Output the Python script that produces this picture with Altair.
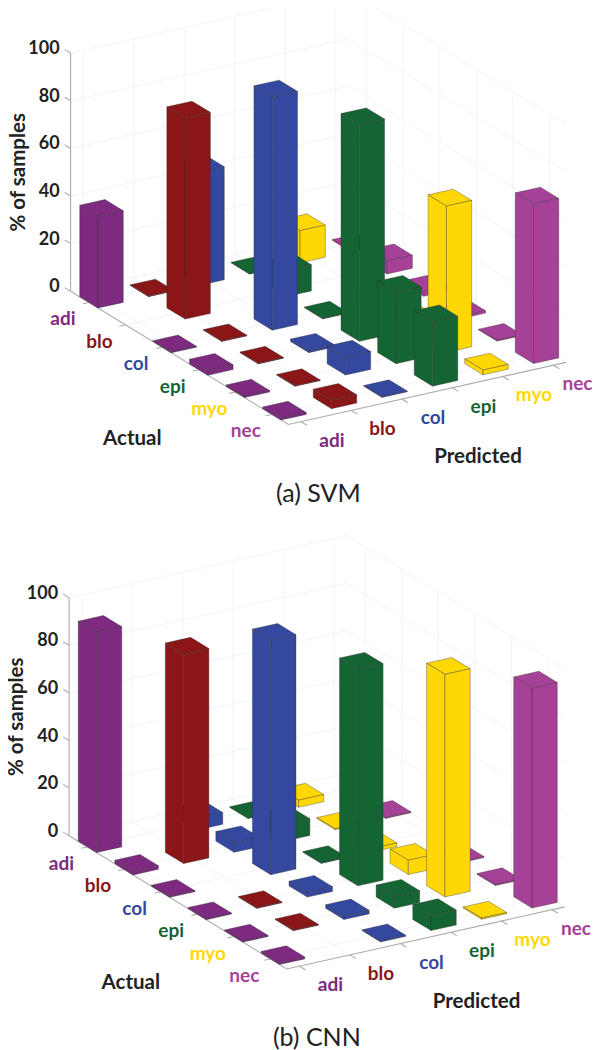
import altair as alt

ACTUAL = ["adi", "blo", "col", "epi", "myo", "nec"]
PREDICTED = ["adi", "blo", "col", "epi", "myo", "nec"]
COLORS = ["#7D2A80", "#8B1617", "#33489E", "#156534", "#FFD804", "#A64198"]
Z_TICKS = [0, 20, 40, 60, 80, 100]

# rows: actual, columns: predicted (% of samples), 0 = no bar drawn
SVM = [
    [38.5, 0.3, 47.5, 0.3, 13.5, 0.3],
    [0, 84.5, 0, 11, 0, 5.5],
    [0.4, 0.3, 98, 0.3, 0, 2],
    [2, 0.3, 1, 91, 4, 1],
    [0.6, 0.3, 7.5, 30, 61.5, 0.3],
    [0.8, 3.5, 0.3, 27, 2, 67],
]
CNN = [
    [92.5, 0, 5, 0.3, 3, 0],
    [1.5, 88, 4, 7, 0.4, 0.4],
    [0.4, 0, 98.5, 0.3, 1.5, 0],
    [0.4, 0.3, 2, 91, 6, 0.4],
    [0.4, 0.3, 1.5, 5, 93.5, 0.4],
    [0.8, 0, 0.4, 6.3, 0.5, 92.4],
]

ACTUAL_STEP = (36.6, 22.4)
PRED_STEP = (50.5, -11.3)
Z_STEP = 2.38
A_MIN, A_MAX, P_MIN, P_MAX = -0.5, 5.45, -0.25, 5.25
HALF = 0.25


def make_panel(values, caption, ox, oy):
    def pt(a, p, z=0.0):
        x = ox + a * ACTUAL_STEP[0] + p * PRED_STEP[0] - 8
        y = oy + a * ACTUAL_STEP[1] + p * PRED_STEP[1] - z * Z_STEP - 8
        return [round(x, 2), round(y, 2)]

    def line(points, kind):
        return {"type": "Feature", "properties": {"kind": kind},
                "geometry": {"type": "LineString", "coordinates": points}}

    grid, axes, bars = [], [], []
    for i in range(6):
        grid.append(line([pt(i, P_MIN), pt(i, P_MAX)], "g"))
        grid.append(line([pt(A_MIN, i), pt(A_MAX, i)], "g"))
        grid.append(line([pt(A_MIN, i), pt(A_MIN, i, 100)], "g"))
        grid.append(line([pt(i, P_MAX), pt(i, P_MAX, 100)], "g"))
    for z in Z_TICKS:
        grid.append(line([pt(A_MAX, P_MAX, z), pt(A_MIN, P_MAX, z), pt(A_MIN, P_MIN, z)], "g"))

    axes.append(line([pt(A_MIN, P_MIN), pt(A_MAX, P_MIN), pt(A_MAX, P_MAX)], "a"))
    axes.append(line([pt(A_MIN, P_MIN), pt(A_MIN, P_MIN, 100)], "a"))
    for i in range(6):
        axes.append(line([pt(i, P_MIN), pt(i, P_MIN - 0.12)], "a"))
        axes.append(line([pt(A_MAX, i), pt(A_MAX + 0.16, i)], "a"))
    for z in Z_TICKS:
        axes.append(line([pt(A_MIN, P_MIN, z), pt(A_MIN - 0.16, P_MIN, z)], "a"))

    cells = [(a, p) for a in range(6) for p in range(6) if values[a][p] > 0]
    cells.sort(key=lambda c: c[0] - c[1])
    for a, p in cells:
        v = values[a][p]
        a0, a1, p0, p1 = a - HALF, a + HALF, p - HALF, p + HALF
        faces = [
            [pt(a0, p0, v), pt(a1, p0, v), pt(a1, p1, v), pt(a0, p1, v)],
            [pt(a0, p0), pt(a1, p0), pt(a1, p0, v), pt(a0, p0, v)],
            [pt(a1, p0), pt(a1, p1), pt(a1, p1, v), pt(a1, p0, v)],
        ]
        for f in faces:
            bars.append({"type": "Feature", "properties": {"fill": COLORS[p]},
                         "geometry": {"type": "Polygon", "coordinates": [f + [f[0]]]}})

    ticks, cats, names = [], [], []
    for z in Z_TICKS:
        q = pt(A_MIN, P_MIN, z)
        ticks.append({"x": q[0] - 11, "y": q[1] - 4, "t": str(z)})
    for i in range(6):
        q = pt(i, P_MIN)
        cats.append({"x": q[0] - 26, "y": q[1] + 17, "t": ACTUAL[i], "c": COLORS[i]})
        q = pt(A_MAX, i)
        # the last label is pulled in so that it stays inside the page
        dx = 31 if i < 5 else 24
        cats.append({"x": q[0] + dx, "y": q[1] + 19, "t": PREDICTED[i], "c": COLORS[i]})
    q = pt(A_MAX, P_MIN)
    names.append({"x": q[0] - 156, "y": q[1] + 14, "t": "Actual"})
    q = pt(A_MAX, 4)
    names.append({"x": q[0] - 25, "y": q[1] + 81, "t": "Predicted"})

    z_title = pt(A_MIN, P_MIN, 50)
    title = [{"x": z_title[0] - 52, "y": z_title[1], "t": "% of samples"}]
    cap_anchor = pt(A_MAX, P_MIN)
    cap = [{"x": cap_anchor[0] + 30, "y": cap_anchor[1] + 69, "t": caption}]
    return grid, axes, bars, ticks, cats, names, title, cap


LON = alt.Longitude("x:Q")
LAT = alt.Latitude("y:Q")

layers = []
for vals, caption, ox, oy in [(SVM, "(a) SVM", 101.5, 299.6), (CNN, "(b) CNN", 100.0, 844.1)]:
    grid, axes, bars, ticks, cats, names, title, cap = make_panel(vals, caption, ox, oy)
    layers.append(alt.Chart(alt.Data(values=grid)).mark_geoshape(
        filled=False, stroke="#eef0f2", strokeWidth=0.8))
    layers.append(alt.Chart(alt.Data(values=axes)).mark_geoshape(
        filled=False, stroke="#adadad", strokeWidth=1.1))
    layers.append(alt.Chart(alt.Data(values=bars)).mark_geoshape(
        stroke="#2b2b2b", strokeWidth=0.7, strokeOpacity=0.5).encode(
        fill=alt.Fill("properties.fill:N", scale=None)))
    layers.append(alt.Chart(alt.Data(values=cats)).mark_text(
        font="Lato", fontWeight="bold", fontSize=19, align="center", baseline="middle").encode(
        longitude=LON, latitude=LAT, text="t:N", color=alt.Color("c:N", scale=None)))
    layers.append(alt.Chart(alt.Data(values=ticks)).mark_text(
        font="Lato", fontWeight="bold", fontSize=18, align="right", baseline="middle",
        color="#222222").encode(longitude=LON, latitude=LAT, text="t:N"))
    layers.append(alt.Chart(alt.Data(values=names)).mark_text(
        font="Lato", fontWeight="bold", fontSize=20.5, align="center", baseline="middle",
        color="#222222").encode(longitude=LON, latitude=LAT, text="t:N"))
    layers.append(alt.Chart(alt.Data(values=title)).mark_text(
        font="Lato", fontWeight="bold", fontSize=20.5, align="center", baseline="middle",
        angle=270, color="#222222").encode(longitude=LON, latitude=LAT, text="t:N"))
    layers.append(alt.Chart(alt.Data(values=cap)).mark_text(
        font="Lato", fontSize=25, align="center", baseline="middle", color="#222222").encode(
        longitude=LON, latitude=LAT, text="t:N"))

chart = alt.layer(*layers).properties(
    width=586, height=1042, padding=0, background="white",
    projection=alt.Projection(type="identity", scale=1, translate=[0, 0]),
).configure_view(stroke=None)

chart.save("out.html", embed_options={"renderer": "svg", "actions": False})
